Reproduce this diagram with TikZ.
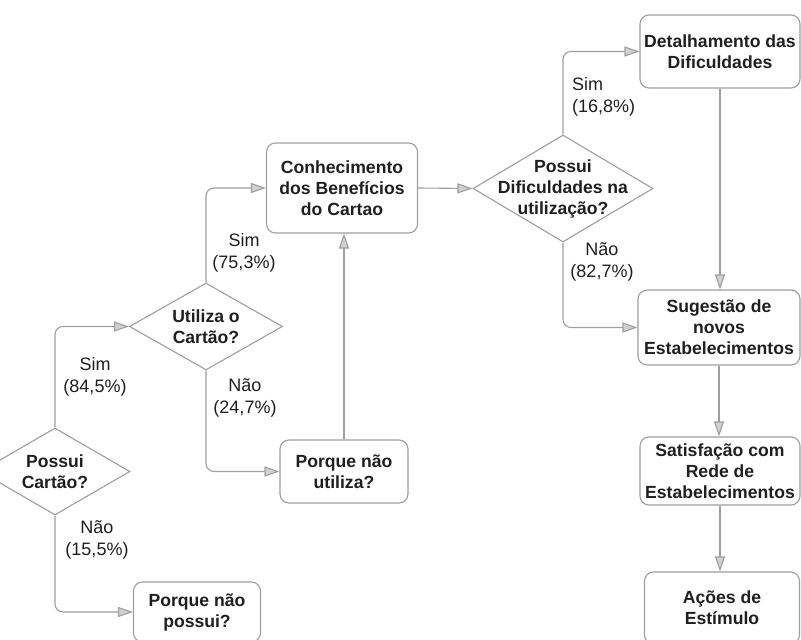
\documentclass[tikz,border=0pt]{standalone}
\usepackage{fontspec}
\setmainfont{Liberation Sans}
\usepackage{xcolor}
\usepackage{tikz}
\usetikzlibrary{shapes.geometric}
\usetikzlibrary{arrows.meta}

\definecolor{linegray}{gray}{0.62}
\definecolor{headgray}{gray}{0.82}
\definecolor{inkgray}{gray}{0.12}

\tikzset{
  box/.style={draw=linegray,line width=1.1pt,rounded corners=9pt,
    align=center,inner sep=0pt,text=inkgray,
    font=\bfseries\fontsize{17.6}{21}\selectfont},
  choice/.style={draw=linegray,line width=1.1pt,diamond,inner sep=0pt},
  choicetxt/.style={align=center,inner sep=0pt,text=inkgray,
    font=\bfseries\fontsize{17.6}{21}\selectfont},
  pct/.style={align=center,inner sep=0pt,text=inkgray,
    font=\fontsize{18}{21.5}\selectfont},
  flow/.style={draw=linegray,line width=1.1pt,rounded corners=8pt,
    -{Triangle[length=15pt,width=10pt,fill=headgray]}},
}

\begin{document}
\begin{tikzpicture}[x=1pt,y=-1pt]
    \useasboundingbox (0,0) rectangle (801,640);
    % decisoes
    \node[choice,minimum width=150pt,minimum height=87pt] (possui) at (55,471.5) {};
    \node[choicetxt] (possuiTxt) at (possui) {Possui\\Cartão?};
    \node[choice,minimum width=153pt,minimum height=87pt] (utiliza) at (206,326.5) {};
    \node[choicetxt] (utilizaTxt) at (utiliza) {Utiliza o\\Cartão?};
    \node[choice,minimum width=180pt,minimum height=107pt] (dif) at (563,188.5) {};
    \node[choicetxt] (difTxt) at (dif) {Possui\\Dificuldades na\\utilização?};
    % caixas
    \node[box,minimum width=127pt,minimum height=60pt] (naoPossui) at (197,612) {Porque não\\possui?};
    \node[box,minimum width=128pt,minimum height=63pt] (naoUtiliza) at (344,471.5) {Porque não\\utiliza?};
    \node[box,minimum width=151pt,minimum height=90pt] (conhec) at (342,188) {Conhecimento\\dos Benefícios\\do Cartao};
    \node[box,minimum width=160pt,minimum height=73pt] (detalh) at (720,51.5) {Detalhamento das\\Dificuldades};
    \node[box,minimum width=162pt,minimum height=75pt] (sugest) at (719,327.5) {Sugestão de\\novos\\Estabelecimentos};
    \node[box,minimum width=160pt,minimum height=68pt] (satisf) at (720,471) {Satisfação com\\Rede de\\Estabelecimentos};
    \node[box,minimum width=155pt,minimum height=72pt] (acoes) at (722,608) {Ações de\\Estímulo};
    % ligacoes
    \draw[flow] (possui.north) |- (utiliza.west);
    \draw[flow] (possui.south) |- (naoPossui.west);
    \draw[flow] (utiliza.north) |- (conhec.west);
    \draw[flow] (utiliza.south) |- (naoUtiliza.west);
    \draw[flow] (naoUtiliza.north) -- (naoUtiliza.north |- conhec.south);
    \draw[flow] (conhec.east) -- (dif.west);
    \draw[flow] (dif.north) |- (detalh.west);
    \draw[flow] (dif.south) |- (sugest.west);
    \draw[flow] (detalh.south) -- (detalh.south |- sugest.north);
    \draw[flow] (sugest.south) -- (sugest.south |- satisf.north);
    \draw[flow] (satisf.south) -- (satisf.south |- acoes.north);
    % percentuais
    \node[pct] (simPossui) at (95,377) {Sim\\(84,5\%)};
    \node[pct] (naoPossuiPct) at (97,540) {Não\\(15,5\%)};
    \node[pct] (simUtiliza) at (244,253) {Sim\\(75,3\%)};
    \node[pct] (naoUtilizaPct) at (245,398) {Não\\(24,7\%)};
    \node[pct,align=left,anchor=west] (simDif) at (572,97) {Sim\\(16,8\%)};
    \node[pct] (naoDif) at (602,262) {Não\\(82,7\%)};
  \end{tikzpicture}
\end{document}
